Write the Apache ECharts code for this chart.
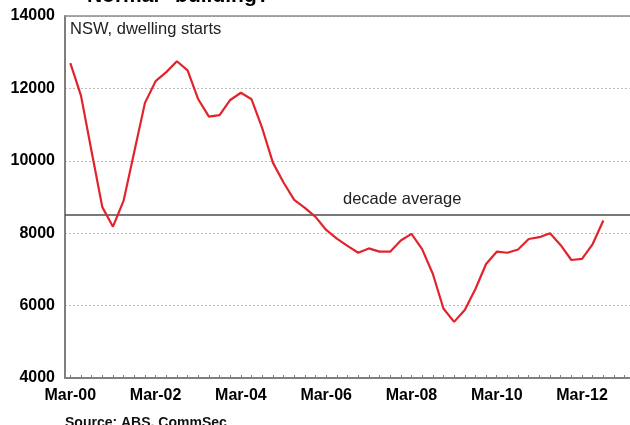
<!DOCTYPE html>
<html>
<head>
<meta charset="utf-8">
<script src="https://cdn.jsdelivr.net/npm/echarts@6/dist/echarts.min.js"></script>
<style>
  html, body { margin: 0; padding: 0; background: #fff; }
  #chart { width: 630px; height: 425px; }
</style>
</head>
<body>
<div id="chart"></div>
<script>
// Quarterly categories, Mar-00 .. Mar-13
const years = ['00','01','02','03','04','05','06','07','08','09','10','11','12'];
const quarters = ['Mar','Jun','Sep','Dec'];
const categories = [];
years.forEach(y => quarters.forEach(q => categories.push(q + '-' + y)));
categories.push('Mar-13');

// NSW dwelling starts (trend), Mar-00 .. Sep-12
const dwellingStarts = [
  12700, 11800, 10250, 8720, 8180, 8900, 10250, 11600, 12200, 12450,
  12750, 12500, 11700, 11220, 11260, 11680, 11880, 11700, 10900, 9950,
  9400, 8920, 8700, 8450, 8090, 7850, 7650, 7460, 7580, 7490,
  7490, 7800, 7980, 7560, 6880, 5920, 5550, 5880, 6460, 7150,
  7490, 7460, 7550, 7840, 7890, 8000, 7670, 7260, 7290, 7700,
  8350
];

// Decade average level
const decadeAverage = 8500;

const yMin = 4000, yMax = 14000, yStep = 2000;

const chart = echarts.init(document.getElementById('chart'), null, { renderer: 'canvas' });

const FONT = 'Liberation Sans, Arial, sans-serif';

chart.setOption({
  animation: false,
  backgroundColor: '#ffffff',
  grid: { left: 65, top: 16, right: -4, bottom: 47 },
  xAxis: [{
    type: 'category',
    data: categories,
    boundaryGap: true,
    axisLine: { lineStyle: { color: '#7f7f7f', width: 2 } },
    axisTick: { show: true, inside: true, length: 3, interval: 0, alignWithLabel: true,
                lineStyle: { color: '#7f7f7f', width: 1 } },
    axisLabel: { interval: 7, margin: 10, color: '#000', fontFamily: FONT,
                 fontWeight: 'bold', fontSize: 16 },
    splitLine: { show: false }
  }, {
    // top frame line of the plot area
    type: 'category',
    data: categories,
    position: 'top',
    axisLine: { show: true, lineStyle: { color: '#8c8c8c', width: 1.5 } },
    axisTick: { show: false },
    axisLabel: { show: false },
    splitLine: { show: false }
  }],
  yAxis: {
    type: 'value',
    min: yMin, max: yMax, interval: yStep,
    axisLine: { show: true, lineStyle: { color: '#7f7f7f', width: 2 } },
    axisTick: { show: false },
    axisLabel: { margin: 10, color: '#000', fontFamily: FONT, fontWeight: 'bold', fontSize: 16,
                 formatter: v => String(v) },
    splitLine: { show: true, lineStyle: { color: '#bdbdbd', type: [2, 2], width: 1 } }
  },
  series: [{
    type: 'line',
    data: dwellingStarts,
    symbol: 'none',
    lineStyle: { color: '#e2232b', width: 2.2 },
    z: 3,
    markLine: {
      silent: true,
      symbol: 'none',
      label: { show: false },
      lineStyle: { color: '#4d4d4d', type: 'solid', width: 1.5 },
      data: [{ yAxis: decadeAverage }],
      z: 2
    }
  }]
});

// Text annotations; the average caption sits just above its line
const avgY = chart.convertToPixel({ yAxisIndex: 0 }, decadeAverage);
chart.setOption({
  graphic: [
    { type: 'text', left: 77, top: -14,
      style: { text: '"Normal" building?', font: 'bold 21px ' + FONT, fill: '#000' } },
    { type: 'text', left: 70, top: 21,
      style: { text: 'NSW, dwelling starts', font: '16.5px ' + FONT, fill: '#222' } },
    { type: 'text', left: 343, top: avgY - 24,
      style: { text: 'decade average', font: '16.5px ' + FONT, fill: '#222' } },
    { type: 'text', left: 65, top: 416,
      style: { text: 'Source: ABS, CommSec', font: 'bold 14px ' + FONT, fill: '#111' } }
  ]
});
</script>
</body>
</html>
